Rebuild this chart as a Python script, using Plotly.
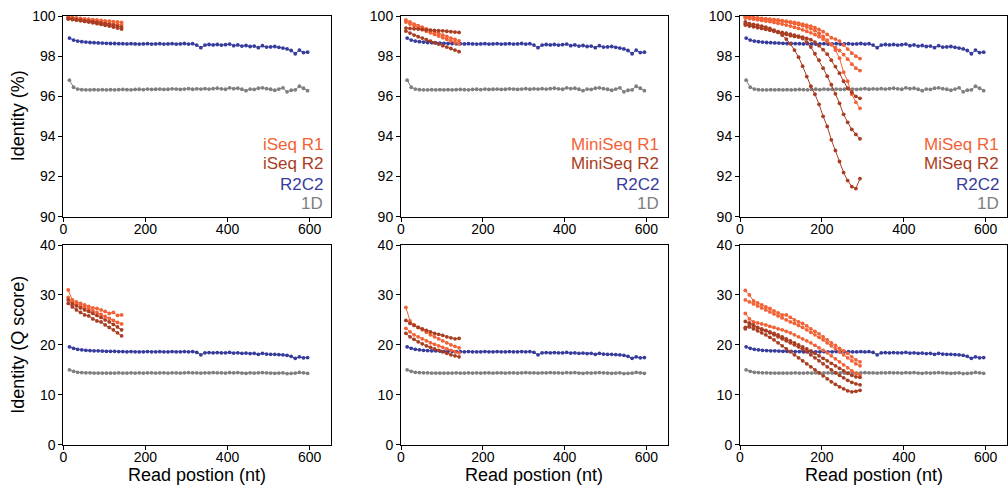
import plotly.graph_objects as go

# ---------------- data ----------------
X_LONG = list(range(15, 600, 10))      # R2C2 / 1D read positions (nt)
X_ISEQ = list(range(12, 143, 10))      # iSeq read positions
X_MINISEQ = list(range(12, 143, 10))   # MiniSeq read positions
X_MISEQ = list(range(13, 294, 10))     # MiSeq read positions

R2C2_PCT = [98.90, 98.80, 98.75, 98.72, 98.70, 98.68, 98.67, 98.66, 98.65, 98.64,
            98.63, 98.63, 98.62, 98.62, 98.61, 98.62, 98.61, 98.60, 98.61, 98.62,
            98.60, 98.61, 98.62, 98.60, 98.61, 98.62, 98.60, 98.61, 98.63, 98.60,
            98.62, 98.55, 98.42, 98.55, 98.58, 98.56, 98.58, 98.55, 98.57, 98.60,
            98.52, 98.56, 98.50, 98.53, 98.48, 98.50, 98.42, 98.52, 98.45, 98.46,
            98.48, 98.44, 98.40, 98.36, 98.28, 98.12, 98.30, 98.18, 98.20]
ONED_PCT = [96.80, 96.45, 96.36, 96.33, 96.32, 96.32, 96.33, 96.32, 96.33, 96.32,
            96.33, 96.32, 96.33, 96.34, 96.33, 96.32, 96.34, 96.35, 96.33, 96.36,
            96.34, 96.35, 96.36, 96.34, 96.35, 96.37, 96.36, 96.34, 96.36, 96.38,
            96.35, 96.37, 96.36, 96.38, 96.36, 96.38, 96.40, 96.37, 96.35, 96.42,
            96.38, 96.40, 96.35, 96.28, 96.36, 96.34, 96.40, 96.42, 96.38, 96.35,
            96.30, 96.36, 96.42, 96.22, 96.30, 96.32, 96.50, 96.40, 96.28]
R2C2_Q = [19.6, 19.3, 19.1, 19.0, 18.9, 18.85, 18.8, 18.8, 18.75, 18.7,
          18.7, 18.7, 18.65, 18.65, 18.6, 18.65, 18.6, 18.6, 18.6, 18.65,
          18.6, 18.6, 18.65, 18.6, 18.6, 18.65, 18.6, 18.6, 18.65, 18.6,
          18.65, 18.5, 18.0, 18.4, 18.45, 18.4, 18.45, 18.4, 18.4, 18.5,
          18.35, 18.4, 18.3, 18.35, 18.25, 18.3, 18.1, 18.3, 18.15, 18.1,
          18.1, 18.05, 18.0, 17.9, 17.7, 17.3, 17.6, 17.4, 17.45]
ONED_Q = [15.0, 14.7, 14.5, 14.45, 14.4, 14.4, 14.35, 14.35, 14.35, 14.35,
          14.35, 14.35, 14.4, 14.35, 14.35, 14.4, 14.35, 14.4, 14.35, 14.4,
          14.4, 14.35, 14.4, 14.4, 14.35, 14.4, 14.4, 14.35, 14.4, 14.45,
          14.4, 14.4, 14.35, 14.4, 14.4, 14.45, 14.4, 14.4, 14.35, 14.45,
          14.4, 14.45, 14.35, 14.3, 14.4, 14.35, 14.4, 14.45, 14.4, 14.35,
          14.3, 14.35, 14.4, 14.25, 14.3, 14.35, 14.5, 14.4, 14.3]

ISEQ_R1_PCT = [
    [99.95, 99.93, 99.90, 99.88, 99.86, 99.84, 99.82, 99.80, 99.78, 99.76, 99.74, 99.72, 99.70, 99.68],
    [99.92, 99.88, 99.85, 99.82, 99.79, 99.76, 99.73, 99.70, 99.68, 99.65, 99.62, 99.60, 99.58, 99.55],
]
ISEQ_R2_PCT = [
    [99.88, 99.86, 99.83, 99.80, 99.77, 99.74, 99.72, 99.69, 99.65, 99.62, 99.58, 99.54, 99.50, 99.45],
    [99.85, 99.82, 99.79, 99.76, 99.73, 99.70, 99.66, 99.62, 99.58, 99.54, 99.50, 99.45, 99.40, 99.35],
]
ISEQ_R1_Q = [
    [31.0, 29.0, 28.6, 28.3, 28.0, 27.7, 27.4, 27.3, 27.0, 26.7, 26.3, 26.5, 25.9, 26.0],
    [29.5, 28.6, 28.2, 27.8, 27.5, 27.2, 26.8, 26.5, 26.1, 25.7, 25.3, 24.9, 24.5, 24.2],
]
ISEQ_R2_Q = [
    [29.0, 28.2, 27.8, 27.4, 27.0, 26.7, 26.3, 25.9, 25.5, 25.0, 24.6, 24.1, 23.6, 23.0],
    [28.3, 27.6, 27.0, 26.5, 26.0, 25.8, 25.2, 24.8, 24.6, 24.0, 23.5, 23.0, 22.4, 21.8],
]

MINISEQ_R1_PCT = [
    [99.80, 99.70, 99.60, 99.52, 99.44, 99.36, 99.28, 99.20, 99.12, 99.05, 98.98, 98.90, 98.83, 98.76],
    [99.70, 99.60, 99.50, 99.41, 99.32, 99.24, 99.16, 99.08, 99.00, 98.92, 98.84, 98.76, 98.68, 98.60],
]
MINISEQ_R2_PCT = [
    [99.40, 99.38, 99.36, 99.35, 99.33, 99.31, 99.30, 99.28, 99.27, 99.26, 99.24, 99.22, 99.20, 99.18],
    [99.25, 99.15, 99.05, 98.97, 98.90, 98.82, 98.75, 98.67, 98.60, 98.52, 98.45, 98.38, 98.30, 98.22],
]
MINISEQ_R1_Q = [
    [27.5, 24.8, 24.0, 23.5, 23.0, 22.5, 22.0, 21.6, 21.2, 20.8, 20.4, 20.0, 19.7, 19.4],
    [23.3, 22.6, 22.0, 21.6, 21.2, 20.8, 20.4, 20.1, 19.8, 19.5, 19.2, 18.9, 18.6, 18.4],
]
MINISEQ_R2_Q = [
    [24.9, 24.3, 23.9, 23.5, 23.2, 22.9, 22.6, 22.3, 22.1, 21.9, 21.6, 21.4, 21.2, 21.3],
    [22.3, 21.6, 21.1, 20.6, 20.2, 19.8, 19.5, 19.2, 18.9, 18.6, 18.3, 18.0, 17.8, 17.6],
]

MISEQ_R1_PCT = [
    [99.98, 99.95, 99.92, 99.90, 99.88, 99.86, 99.84, 99.82, 99.80, 99.77, 99.74, 99.71, 99.68, 99.64, 99.60,
     99.55, 99.50, 99.42, 99.33, 99.22, 99.08, 98.92, 98.85, 98.75, 98.55, 98.35, 98.15, 98.00, 97.88],
    [99.90, 99.87, 99.84, 99.81, 99.78, 99.75, 99.72, 99.68, 99.64, 99.60, 99.55, 99.50, 99.44, 99.38, 99.31,
     99.24, 99.16, 99.07, 98.97, 98.85, 98.72, 98.58, 98.42, 98.28, 98.08, 97.85, 97.60, 97.40, 97.28],
    [99.95, 99.93, 99.90, 99.88, 99.86, 99.84, 99.82, 99.80, 99.77, 99.74, 99.71, 99.67, 99.63, 99.58, 99.52,
     99.45, 99.37, 99.27, 99.14, 98.98, 98.80, 98.58, 98.30, 97.90, 97.20, 96.75, 96.10, 95.70, 95.40],
]
MISEQ_R2_PCT = [
    [99.70, 99.62, 99.58, 99.55, 99.50, 99.45, 99.38, 99.30, 99.20, 99.05, 98.85, 98.62, 98.30, 97.95, 97.50,
     96.98, 96.50, 96.10, 95.60, 95.00, 94.50, 93.83, 93.30, 92.75, 92.20, 91.80, 91.50, 91.40, 91.90],
    [99.62, 99.56, 99.50, 99.45, 99.40, 99.35, 99.30, 99.24, 99.18, 99.12, 99.08, 99.02, 98.98, 98.95, 98.88,
     98.70, 98.45, 98.12, 97.80, 97.40, 97.00, 96.58, 96.12, 95.65, 95.10, 94.70, 94.35, 94.10, 93.88],
    [99.55, 99.50, 99.46, 99.42, 99.38, 99.34, 99.30, 99.26, 99.22, 99.18, 99.14, 99.10, 99.05, 99.00, 98.95,
     98.88, 98.82, 98.70, 98.52, 98.32, 98.10, 97.80, 97.48, 97.15, 96.75, 96.40, 96.20, 96.00, 95.90],
]
MISEQ_R1_Q = [
    [30.9, 30.0, 28.8, 28.4, 28.0, 27.6, 27.3, 26.8, 26.4, 26.0, 26.0, 25.5, 25.0, 24.6, 24.3,
     23.8, 23.2, 22.7, 22.2, 21.6, 21.0, 20.4, 19.9, 19.3, 18.8, 18.3, 17.6, 17.0, 16.6],
    [29.0, 28.6, 28.2, 27.8, 27.4, 27.0, 26.6, 26.2, 25.8, 25.4, 25.0, 24.6, 24.3, 23.9, 23.5,
     23.0, 22.5, 22.0, 21.5, 21.0, 20.4, 19.8, 19.2, 18.6, 18.0, 17.4, 16.8, 16.2, 15.8],
    [26.3, 25.2, 24.6, 24.4, 24.2, 24.0, 23.7, 23.5, 23.2, 23.0, 22.7, 22.4, 22.0, 21.6, 21.2,
     20.8, 20.4, 19.9, 19.4, 18.9, 18.4, 17.8, 17.2, 16.6, 16.0, 15.4, 14.8, 14.3, 14.0],
]
MISEQ_R2_Q = [
    [23.5, 23.6, 23.2, 22.8, 22.4, 22.0, 21.5, 21.0, 20.4, 19.8, 19.2, 18.6, 18.0, 17.4, 16.8,
     16.2, 15.6, 15.0, 14.4, 13.8, 13.2, 12.6, 12.1, 11.6, 11.2, 10.8, 10.6, 10.7, 10.9],
    [24.7, 24.4, 24.0, 23.5, 23.0, 22.8, 22.4, 22.0, 21.6, 21.2, 20.8, 20.4, 20.0, 19.6, 19.1,
     18.6, 18.0, 17.4, 16.8, 16.2, 15.6, 15.0, 14.4, 13.9, 13.4, 12.9, 12.5, 12.2, 12.0],
    [23.2, 24.2, 23.8, 23.4, 23.2, 22.9, 22.6, 22.3, 22.0, 21.6, 21.2, 20.8, 20.4, 20.0, 19.6,
     19.2, 18.8, 18.3, 17.8, 17.3, 16.8, 16.3, 15.8, 15.3, 14.8, 14.3, 13.9, 13.6, 13.5],
]

PLATFORMS = ["iSeq", "MiniSeq", "MiSeq"]
Y_TITLES = ["Identity (%)", "Identity (Q score)"]
X_TITLE = "Read postion (nt)"
X_TICKS = [0, 200, 400, 600]
Y_TICKS_PCT = [90, 92, 94, 96, 98, 100]
Y_TICKS_Q = [0, 10, 20, 30, 40]

# ---------------- style ----------------
C_R1 = "#F26236"
C_R2 = "#A93D22"
C_R2C2 = "#373C9C"
C_1D = "#7F7F7F"
FONT = "Liberation Sans, Arial, sans-serif"

W, H = 1008, 492
COLS_PX = [(63.3, 331.0), (401.0, 667.7), (740.0, 1007.0)]
ROWS_PX = [(16.0, 216.7), (245.0, 444.7)]

fig = go.Figure()


def add_line(xs, ys, color, ax_idx):
    suffix = "" if ax_idx == 1 else str(ax_idx)
    fig.add_trace(go.Scatter(
        x=xs, y=ys, mode="lines+markers",
        line=dict(color=color, width=1),
        marker=dict(color=color, size=3.8),
        xaxis="x" + suffix, yaxis="y" + suffix,
        showlegend=False, hoverinfo="skip",
    ))


panel_data = [
    (0, 0, X_ISEQ, ISEQ_R1_PCT, ISEQ_R2_PCT, R2C2_PCT, ONED_PCT),
    (0, 1, X_MINISEQ, MINISEQ_R1_PCT, MINISEQ_R2_PCT, R2C2_PCT, ONED_PCT),
    (0, 2, X_MISEQ, MISEQ_R1_PCT, MISEQ_R2_PCT, R2C2_PCT, ONED_PCT),
    (1, 0, X_ISEQ, ISEQ_R1_Q, ISEQ_R2_Q, R2C2_Q, ONED_Q),
    (1, 1, X_MINISEQ, MINISEQ_R1_Q, MINISEQ_R2_Q, R2C2_Q, ONED_Q),
    (1, 2, X_MISEQ, MISEQ_R1_Q, MISEQ_R2_Q, R2C2_Q, ONED_Q),
]

layout = dict(
    width=W, height=H,
    margin=dict(l=0, r=0, t=0, b=0, pad=0, autoexpand=False),
    paper_bgcolor="white", plot_bgcolor="white",
    font=dict(family=FONT, size=14, color="black"),
    annotations=[],
)

for i, (row, col, xs, r1s, r2s, r2c2, oned) in enumerate(panel_data):
    idx = i + 1
    add_line(X_LONG, oned, C_1D, idx)
    add_line(X_LONG, r2c2, C_R2C2, idx)
    for ys in r1s:
        add_line(xs, ys, C_R1, idx)
    for ys in r2s:
        add_line(xs, ys, C_R2, idx)

    x0, x1 = COLS_PX[col]
    y0, y1 = ROWS_PX[row]
    suffix = "" if idx == 1 else str(idx)
    axis_common = dict(
        showline=True, linecolor="black", linewidth=1, mirror=True,
        ticks="outside", ticklen=4, tickwidth=1, tickcolor="black",
        showgrid=False, zeroline=False, automargin=False,
        tickfont=dict(family=FONT, size=14, color="black"),
    )
    layout["xaxis" + suffix] = dict(
        axis_common, domain=[x0 / W, x1 / W], range=[0, 652],
        tickvals=X_TICKS, ticktext=[str(t) for t in X_TICKS],
        anchor="y" + suffix, ticklabelstandoff=-5,
    )
    if row == 0:
        yr, yt = [90, 100], Y_TICKS_PCT
    else:
        yr, yt = [0, 40], Y_TICKS_Q
    layout["yaxis" + suffix] = dict(
        axis_common, domain=[1 - y1 / H, 1 - y0 / H], range=yr,
        tickvals=yt, ticktext=[str(t) for t in yt],
        anchor="x" + suffix,
    )

    if row == 0:
        labels = [(PLATFORMS[col] + " R1", C_R1), (PLATFORMS[col] + " R2", C_R2),
                  ("R2C2", C_R2C2), ("1D", C_1D)]
        for k, (txt, c) in enumerate(labels):
            ypx = 144 + 20 * k
            layout["annotations"].append(dict(
                text=txt, xref="paper", yref="paper",
                x=(x1 - 6.5) / W, y=1 - ypx / H, xanchor="right", yanchor="middle",
                showarrow=False, font=dict(family=FONT, size=17, color=c),
            ))

for col in range(3):
    x0, x1 = COLS_PX[col]
    layout["annotations"].append(dict(
        text=X_TITLE, xref="paper", yref="paper",
        x=((x0 + x1) / 2) / W, y=1 - 475 / H, xanchor="center", yanchor="middle",
        showarrow=False, font=dict(family=FONT, size=18, color="black"),
    ))
for row in range(2):
    y0, y1 = ROWS_PX[row]
    layout["annotations"].append(dict(
        text=Y_TITLES[row], xref="paper", yref="paper",
        x=18 / W, y=1 - ((y0 + y1) / 2) / H, xanchor="center", yanchor="middle",
        textangle=-90, showarrow=False, font=dict(family=FONT, size=18, color="black"),
    ))

fig.update_layout(**layout)
fig.write_html(
    "out.html",
    config={"displayModeBar": False},
    post_script="document.body.style.margin='0';document.body.style.overflow='hidden';",
)
